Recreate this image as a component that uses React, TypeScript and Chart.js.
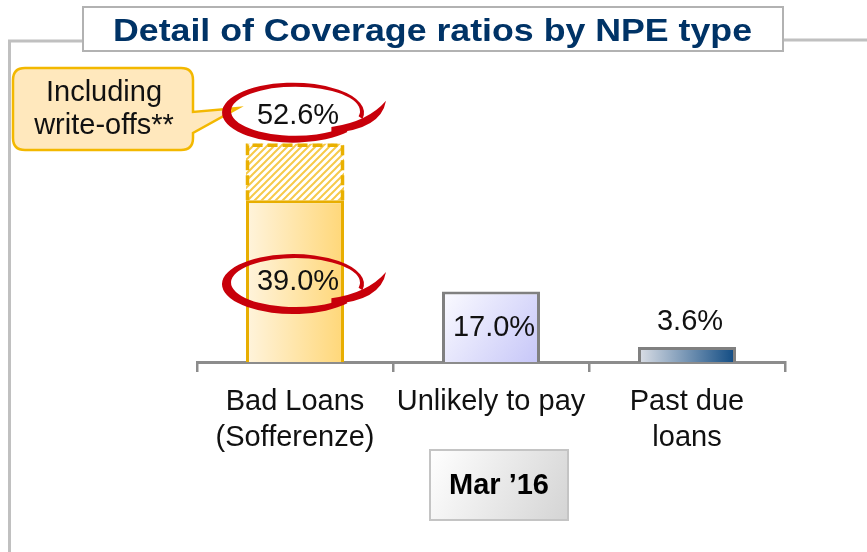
import React, { useEffect, useRef } from "react";
import { Chart, registerables } from "chart.js";

Chart.register(...registerables);

// ---- Data ----
const categories: string[][] = [["Bad Loans", "(Sofferenze)"], ["Unlikely to pay"], ["Past due", "loans"]];
const coverage: number[] = [39.0, 17.0, 3.6];
const coverageInclWriteOffs: (number | null)[] = [52.6, null, null];
const valueLabels: string[] = ["39.0%", "17.0%", "3.6%"];
const inclLabels: (string | null)[] = ["52.6%", null, null];
const titleText = "Detail of Coverage ratios by NPE type";
const calloutLines = ["Including", "write-offs**"];
const periodLabel = "Mar \u201916";

const FONT = "'Liberation Sans', Arial, Helvetica, sans-serif";

// stacked extra part = total incl. write-offs minus base coverage
const extraPart = coverageInclWriteOffs.map((t, i) => (t == null ? null : +(t - coverage[i]).toFixed(1)));

function makeHatch(): CanvasPattern | string {
  const c = document.createElement("canvas");
  c.width = 7;
  c.height = 7;
  const g = c.getContext("2d");
  if (!g) return "#fff3cc";
  g.fillStyle = "#ffffff";
  g.fillRect(0, 0, 7, 7);
  g.strokeStyle = "#f6ca4a";
  g.lineWidth = 2;
  g.beginPath();
  g.moveTo(-1, 8);
  g.lineTo(8, -1);
  g.moveTo(-4, 4);
  g.lineTo(4, -4);
  g.moveTo(3, 11);
  g.lineTo(11, 3);
  g.stroke();
  const p = g.createPattern(c, "repeat");
  return p || "#fff3cc";
}

function barFill(c: any) {
  const chart = c.chart;
  const xs = chart.scales?.x;
  const ys = chart.scales?.y;
  const i = c.dataIndex;
  const fallback = ["#ffe2a0", "#e0e0ff", "#6f87a8"];
  if (!xs || !ys || i === undefined || !chart.chartArea) return fallback[i ?? 0];
  const ctx: CanvasRenderingContext2D = chart.ctx;
  const cx = xs.getPixelForValue(i);
  const hw = (xs.width / categories.length) * 0.25;
  let g: CanvasGradient;
  if (i === 0) {
    g = ctx.createLinearGradient(cx - hw, 0, cx + hw, 0);
    g.addColorStop(0, "#fff4dd");
    g.addColorStop(1, "#ffd778");
  } else if (i === 1) {
    g = ctx.createLinearGradient(cx - hw, ys.getPixelForValue(coverage[1]), cx + hw, ys.getPixelForValue(0));
    g.addColorStop(0, "#fbfbff");
    g.addColorStop(1, "#c6c6f8");
  } else {
    g = ctx.createLinearGradient(cx - hw, 0, cx + hw, 0);
    g.addColorStop(0, "#dcdfe6");
    g.addColorStop(1, "#0f4a82");
  }
  return g;
}

function drawSwoosh(ctx: CanvasRenderingContext2D, cx: number, cy: number) {
  const rx = 71;
  const ry = 30;
  const a1 = (40 * Math.PI) / 180;
  const a2 = ((360 + 12) * Math.PI) / 180;
  ctx.save();
  ctx.fillStyle = "#c8000a";
  ctx.beginPath();
  ctx.ellipse(cx, cy, rx, ry, 0, a1, a2, false);
  ctx.ellipse(cx + 2.5, cy - 1.5, rx - 6.5, ry - 5.5, 0, a2, a1, true);
  ctx.closePath();
  ctx.fill();
  // tail
  const sx = cx + rx * Math.cos(a1);
  const sy = cy + ry * Math.sin(a1);
  ctx.beginPath();
  ctx.moveTo(sx - 16, sy + 1);
  ctx.quadraticCurveTo(cx + 88, cy + 17, cx + 93, cy - 12);
  ctx.quadraticCurveTo(cx + 75, cy + 9, sx - 16, sy - 5);
  ctx.closePath();
  ctx.fill();
  ctx.restore();
}

const decorPlugin = {
  id: "decor",
  beforeDraw(chart: any) {
    const ctx: CanvasRenderingContext2D = chart.ctx;
    ctx.save();
    ctx.fillStyle = "#ffffff";
    ctx.fillRect(0, 0, chart.width, chart.height);
    // frame lines
    ctx.strokeStyle = "#c0c0c0";
    ctx.lineWidth = 3;
    ctx.beginPath();
    ctx.moveTo(84, 41);
    ctx.lineTo(9.5, 41);
    ctx.lineTo(9.5, chart.height + 2);
    ctx.moveTo(782, 40);
    ctx.lineTo(chart.width + 2, 40);
    ctx.stroke();
    // title box
    ctx.fillStyle = "#ffffff";
    ctx.fillRect(83, 7, 700, 44);
    ctx.strokeStyle = "#b2b2b2";
    ctx.lineWidth = 2;
    ctx.strokeRect(83, 7, 700, 44);
    // title text
    ctx.font = `bold 32px ${FONT}`;
    ctx.fillStyle = "#003366";
    ctx.textAlign = "center";
    ctx.textBaseline = "alphabetic";
    const w = ctx.measureText(titleText).width;
    const target = 639;
    ctx.translate(432.5, 40.5);
    ctx.scale(target / w, 1);
    ctx.fillText(titleText, 0, 0);
    ctx.restore();
  },
  afterDatasetsDraw(chart: any) {
    const ctx: CanvasRenderingContext2D = chart.ctx;
    const ys = chart.scales.y;
    const base = chart.getDatasetMeta(0).data;
    const extra = chart.getDatasetMeta(1).data;
    ctx.save();
    // dashed outline of write-offs segment
    extra.forEach((el: any, i: number) => {
      if (extraPart[i] == null) return;
      const p = el.getProps(["x", "y", "base", "width"], true);
      const l = p.x - p.width / 2 + 1.5;
      const r = p.x + p.width / 2 - 1.5;
      ctx.strokeStyle = "#e9b000";
      ctx.lineWidth = 3.5;
      ctx.setLineDash([10, 5]);
      ctx.beginPath();
      ctx.moveTo(l, p.base);
      ctx.lineTo(l, p.y + 1.5);
      ctx.lineTo(r, p.y + 1.5);
      ctx.lineTo(r, p.base);
      ctx.stroke();
      ctx.setLineDash([]);
    });

    // callout box
    const bx = 13, by = 68, bw = 180, bh = 82, rad = 12;
    ctx.beginPath();
    ctx.moveTo(bx + rad, by);
    ctx.lineTo(bx + bw - rad, by);
    ctx.quadraticCurveTo(bx + bw, by, bx + bw, by + rad);
    ctx.lineTo(bx + bw, by + 44);
    ctx.lineTo(238, 108);
    ctx.lineTo(bx + bw, by + 65);
    ctx.lineTo(bx + bw, by + bh - rad);
    ctx.quadraticCurveTo(bx + bw, by + bh, bx + bw - rad, by + bh);
    ctx.lineTo(bx + rad, by + bh);
    ctx.quadraticCurveTo(bx, by + bh, bx, by + bh - rad);
    ctx.lineTo(bx, by + rad);
    ctx.quadraticCurveTo(bx, by, bx + rad, by);
    ctx.closePath();
    ctx.fillStyle = "#ffe8bd";
    ctx.fill();
    ctx.strokeStyle = "#f3b800";
    ctx.lineWidth = 2.5;
    ctx.stroke();
    ctx.fillStyle = "#111111";
    ctx.font = `29px ${FONT}`;
    ctx.textAlign = "center";
    ctx.textBaseline = "middle";
    ctx.fillText(calloutLines[0], 104, 93);
    ctx.fillText(calloutLines[1], 104, 126);

    // value labels
    ctx.font = `29px ${FONT}`;
    ctx.fillStyle = "#111111";
    base.forEach((el: any, i: number) => {
      const p = el.getProps(["x", "y", "base"], true);
      let ty: number;
      if (i === 2) ty = p.y - 25;
      else ty = (p.y + p.base) / 2 + 1;
      const tx = p.x + 3;
      if (i === 0) drawSwoosh(ctx, tx - 5, ty + 2);
      ctx.fillStyle = "#111111";
      ctx.fillText(valueLabels[i], tx, ty);
    });
    extra.forEach((el: any, i: number) => {
      const lbl = inclLabels[i];
      if (!lbl || extraPart[i] == null) return;
      const tx = el.x + 3;
      const ty = ys.getPixelForValue(coverageInclWriteOffs[i] as number) - 28;
      drawSwoosh(ctx, tx - 5, ty - 3);
      ctx.fillStyle = "#111111";
      ctx.fillText(lbl, tx, ty);
    });

    // period box
    const g = ctx.createLinearGradient(430, 450, 568, 520);
    g.addColorStop(0, "#ffffff");
    g.addColorStop(1, "#d4d4d4");
    ctx.fillStyle = g;
    ctx.fillRect(430, 450, 138, 70);
    ctx.strokeStyle = "#c4c4c4";
    ctx.lineWidth = 2;
    ctx.strokeRect(430, 450, 138, 70);
    ctx.fillStyle = "#000000";
    ctx.font = `bold 29px ${FONT}`;
    ctx.fillText(periodLabel, 499, 486);
    ctx.restore();
  },
};

export default function App() {
  const ref = useRef<HTMLCanvasElement | null>(null);
  useEffect(() => {
    if (!ref.current) return;
    Chart.defaults.font.family = FONT;
    const hatch = makeHatch();
    const chart = new Chart(ref.current, {
      type: "bar",
      data: {
        labels: categories as any,
        datasets: [
          {
            label: "Coverage ratio",
            data: coverage,
            backgroundColor: barFill as any,
            borderColor: ["#e8ae00", "#808080", "#808080"],
            borderWidth: 3,
            borderSkipped: "start",
            barPercentage: 0.5,
            categoryPercentage: 1,
            stack: "s",
          },
          {
            label: "Including write-offs",
            data: extraPart as any,
            backgroundColor: hatch as any,
            borderWidth: 0,
            barPercentage: 0.5,
            categoryPercentage: 1,
            stack: "s",
          },
        ],
      },
      options: {
        responsive: false,
        animation: false,
        layout: { padding: { left: 197, right: 82, top: 113, bottom: 0 } },
        plugins: { legend: { display: false }, tooltip: { enabled: false } },
        scales: {
          x: {
            stacked: true,
            z: 1,
            grid: { drawOnChartArea: false, drawTicks: true, tickLength: 10, color: "#8c8c8c", lineWidth: 2.5, offset: true },
            border: { color: "#8c8c8c", width: 3 },
            ticks: { color: "#111111", font: { family: FONT, size: 29, lineHeight: 1.25 }, padding: 12, maxRotation: 0 },
            afterFit: (s: any) => {
              s.height = 190;
            },
          },
          y: { stacked: true, display: false, min: 0, max: 60 },
        },
      },
      plugins: [decorPlugin],
    });
    return () => chart.destroy();
  }, []);
  return (
    <div style={{ position: "absolute", left: 0, top: 0, width: 867, height: 552 }}>
      <canvas ref={ref} width={867} height={552} style={{ display: "block" }} />
    </div>
  );
}
